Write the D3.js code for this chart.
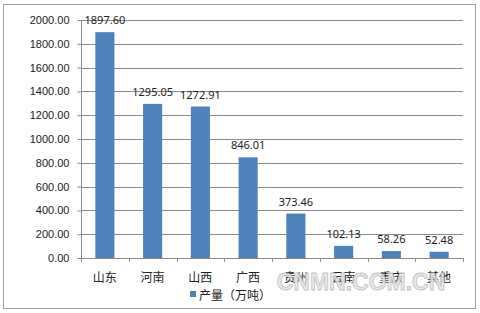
<!DOCTYPE html>
<html>
<head>
<meta charset="utf-8">
<script src="https://cdn.jsdelivr.net/npm/d3@7"></script>
<style>
  body { margin: 0; background: #fff; }
  svg { display: block; font-family: "Noto Sans", "Noto Sans CJK SC", sans-serif; }
</style>
</head>
<body>
<div id="okvir"></div>
<script>
const provinces = ["山东", "河南", "山西", "广西", "贵州", "云南", "重庆", "其他"]
const output = [1897.60, 1295.05, 1272.91, 846.01, 373.46, 102.13, 58.26, 52.48]
const yTicks = [0, 200, 400, 600, 800, 1000, 1200, 1400, 1600, 1800, 2000]
const seriesName = "产量（万吨）"

const width = 480, height = 313
const margin = {top: 20, right: 17, bottom: 55, left: 81}

const svg = d3.select("#okvir").append("svg")
  .attr("width", width).attr("height", height)

svg.append("rect")
  .attr("x", 3.5).attr("y", 4.5).attr("width", 472).attr("height", 304)
  .attr("fill", "#fff").attr("stroke", "#a0a0a0")

const x = d3.scaleBand()
  .domain(provinces)
  .range([margin.left, width - margin.right])
  .paddingInner(0.6).paddingOuter(0.3)

const y = d3.scaleLinear()
  .domain([0, 2000])
  .range([height - margin.bottom, margin.top])

// gridlines
svg.append("g")
  .selectAll("line")
  .data(yTicks.filter(d => d > 0))
  .join("line")
  .attr("x1", margin.left).attr("x2", width - margin.right)
  .attr("y1", d => Math.round(y(d)) + 0.5).attr("y2", d => Math.round(y(d)) + 0.5)
  .attr("stroke", "#8c8c8c")

// y axis
const yAxis = svg.append("g")
  .attr("transform", `translate(${margin.left + 0.5},0)`)
  .call(d3.axisLeft(y).tickValues(yTicks).tickFormat(d3.format(".2f")).tickSize(4).tickPadding(8))
yAxis.selectAll("line,path").attr("stroke", "#8c8c8c")
yAxis.selectAll("text").attr("font-size", 11).attr("fill", "#222")
yAxis.select(".domain").attr("d", `M0,${y(2000)}V${y(0)}`)

// x axis ticks at band edges
const edges = provinces.map((p, i) => margin.left + i * (width - margin.right - margin.left) / provinces.length)
edges.push(width - margin.right)
const xg = svg.append("g")
xg.append("line")
  .attr("x1", margin.left).attr("x2", width - margin.right)
  .attr("y1", Math.round(y(0)) + 0.5).attr("y2", Math.round(y(0)) + 0.5)
  .attr("stroke", "#8c8c8c")
xg.selectAll(".tk").data(edges).join("line")
  .attr("class", "tk")
  .attr("x1", d => Math.round(d) + 0.5).attr("x2", d => Math.round(d) + 0.5)
  .attr("y1", y(0)).attr("y2", y(0) + 4)
  .attr("stroke", "#8c8c8c")

// bars
svg.append("g")
  .selectAll("rect")
  .data(provinces)
  .join("rect")
  .attr("x", (d) => x(d))
  .attr("width", x.bandwidth())
  .attr("y", (d, i) => y(output[i]))
  .attr("height", (d, i) => y(0) - y(output[i]))
  .attr("fill", "#4f81bd")

// value labels
svg.append("g")
  .selectAll("text")
  .data(provinces)
  .join("text")
  .attr("x", d => x(d) + x.bandwidth() / 2)
  .attr("y", (d, i) => y(output[i]) - 8)
  .attr("text-anchor", "middle")
  .attr("font-size", 11)
  .attr("fill", "#222")
  .text((d, i) => d3.format(".2f")(output[i]))

// category labels
svg.append("g")
  .selectAll("text")
  .data(provinces)
  .join("text")
  .attr("x", d => x(d) + x.bandwidth() / 2)
  .attr("y", y(0) + 24)
  .attr("text-anchor", "middle")
  .attr("font-size", 12)
  .attr("font-family", "Noto Sans CJK SC")
  .attr("fill", "#222")
  .text(d => d)

// legend
const legend = svg.append("g").attr("transform", "translate(190,296)")
legend.append("rect")
  .attr("x", 0).attr("y", -5).attr("width", 6).attr("height", 6)
  .attr("fill", "#4f81bd")
legend.append("text")
  .attr("x", 9).attr("y", 0).attr("dy", "0.35em")
  .attr("font-size", 12).attr("font-family", "Noto Sans CJK SC").attr("fill", "#222")
  .text(seriesName)

// watermark
svg.append("text")
  .attr("x", 361).attr("y", 290)
  .attr("text-anchor", "middle")
  .attr("font-size", 23).attr("font-weight", "bold")
  .attr("font-family", "Liberation Sans")
  .attr("fill", "#e4e4e4").attr("stroke", "#b8b8b8").attr("stroke-width", 0.8)
  .attr("opacity", 0.85)
  .text("CNMN.COM.CN")
</script>
</body>
</html>
